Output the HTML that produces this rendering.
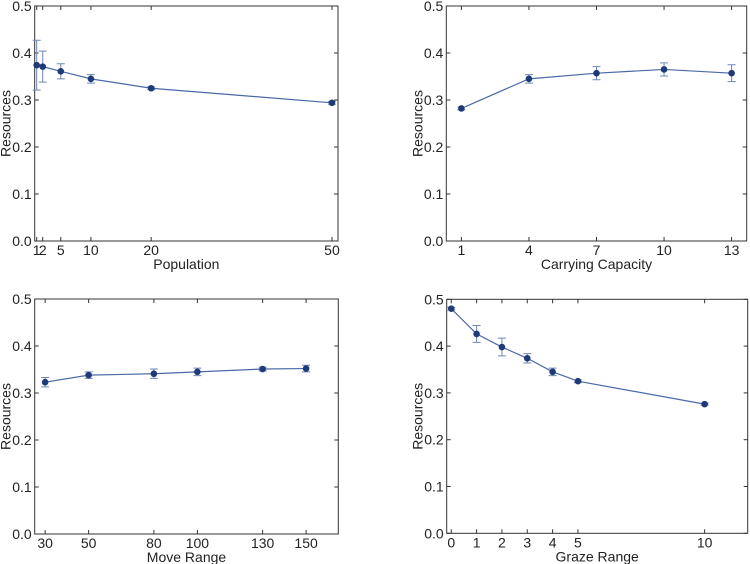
<!DOCTYPE html>
<html><head><meta charset="utf-8">
<style>
html,body{margin:0;padding:0;background:#fff;}
svg{display:block;font-family:"Liberation Sans",sans-serif;}
</style></head>
<body>
<svg id="fig" width="750" height="564" viewBox="0 0 750 564"></svg>
<script>
const popX=[1,2,5,10,20,50];
const popY=[0.374,0.371,0.361,0.345,0.325,0.294];
const popErr=[0.053,0.033,0.016,0.009,0.003,0.003];
const capX=[1,4,7,10,13];
const capY=[0.282,0.345,0.357,0.365,0.357];
const capErr=[0.003,0.009,0.014,0.014,0.018];
const moveX=[30,50,80,100,130,150];
const moveY=[0.323,0.338,0.341,0.345,0.351,0.352];
const moveErr=[0.010,0.007,0.010,0.008,0.004,0.007];
const grazeX=[0,1,2,3,4,5,10];
const grazeY=[0.480,0.426,0.398,0.374,0.345,0.325,0.276];
const grazeErr=[0.003,0.018,0.019,0.010,0.008,0.003,0.002];
const yTicks=[0,0.1,0.2,0.3,0.4,0.5];
const yTickLabels=["0.0","0.1","0.2","0.3","0.4","0.5"];
const popTicks=[1,2,5,10,20,50];
const capTicks=[1,4,7,10,13];
const moveTicks=[30,50,80,100,130,150];
const grazeTicks=[0,1,2,3,4,5,10];

const NS="http://www.w3.org/2000/svg";
const fig=document.getElementById('fig');
function mk(tag,attrs,parent){const e=document.createElementNS(NS,tag);for(const k in attrs)e.setAttribute(k,attrs[k]);parent.appendChild(e);return e;}

function panel(name,box,xdom,xs,ys,errs,xticks,xlabel){
  const g=mk('g',{},fig);
  
  
  const [L,T,R,B]=box;
  const sx=v=>L+(v-xdom[0])/(xdom[1]-xdom[0])*(R-L);
  const sy=v=>B-(v-0)/(0.5-0)*(B-T);
  yTicks.forEach((t,i)=>{
    const y=sy(t);
    const tl=mk('line',{x1:L,x2:L+4,y1:y,y2:y,stroke:'#333','stroke-width':1},g);
    
    
    mk('line',{x1:R,x2:R-4,y1:y,y2:y,stroke:'#333','stroke-width':1},g);
    const tx=mk('text',{x:L-3,y:y+5,'text-anchor':'end','font-size':14,fill:'#222'},g);
    tx.textContent=yTickLabels[i];
    
    
  });
  xticks.forEach(t=>{
    const x=sx(t);
    mk('line',{x1:x,x2:x,y1:B,y2:B-4,stroke:'#333','stroke-width':1},g);
    mk('line',{x1:x,x2:x,y1:T,y2:T+4,stroke:'#333','stroke-width':1},g);
    const tx=mk('text',{x:x,y:B+14,'text-anchor':'middle','font-size':14,fill:'#222'},g);
    tx.textContent=String(t);
    
    
  });
  const frame=mk('rect',{x:L,y:T,width:R-L,height:B-T,fill:'none',stroke:'#333','stroke-width':1},g);
  
  
  const xl=mk('text',{x:(L+R)/2,y:B+28,'text-anchor':'middle','font-size':14,fill:'#222'},g);
  xl.textContent=xlabel;
  
  
  const ly=(T+B)/2;
  const yl=mk('text',{x:L-24,y:ly,'text-anchor':'middle','font-size':14,fill:'#222',transform:`rotate(-90 ${L-24} ${ly})`},g);
  yl.textContent='Resources';
  
  
  const pts=xs.map((x,i)=>sx(x)+','+sy(ys[i])).join(' ');
  const pl=mk('polyline',{points:pts,fill:'none',stroke:'#4a69a6','stroke-width':1.2},g);
  
  
  xs.forEach((x,i)=>{
    const cx=sx(x),y1=sy(ys[i]-errs[i]),y2=sy(ys[i]+errs[i]);
    const eb=mk('path',{d:`M${cx},${y1}V${y2}M${cx-4},${y1}H${cx+4}M${cx-4},${y2}H${cx+4}`,stroke:'#6f86b8','stroke-width':1,fill:'none'},g);
    
    
    const c=mk('circle',{cx:cx,cy:sy(ys[i]),r:3.3,fill:'#1f3a78'},g);
    
    
  });
}
panel('population',[34.7,6,338,241],[0.67,51],popX,popY,popErr,popTicks,'Population');
panel('carrying-capacity',[446.3,6,746.7,241],[0.33,13.67],capX,capY,capErr,capTicks,'Carrying Capacity');
panel('move-range',[34.7,299,338.3,534],[25.2,164.8],moveX,moveY,moveErr,moveTicks,'Move Range');
panel('graze-range',[446.7,299.3,747.7,533.3],[-0.18,11.7],grazeX,grazeY,grazeErr,grazeTicks,'Graze Range');
</script>
</body></html>
